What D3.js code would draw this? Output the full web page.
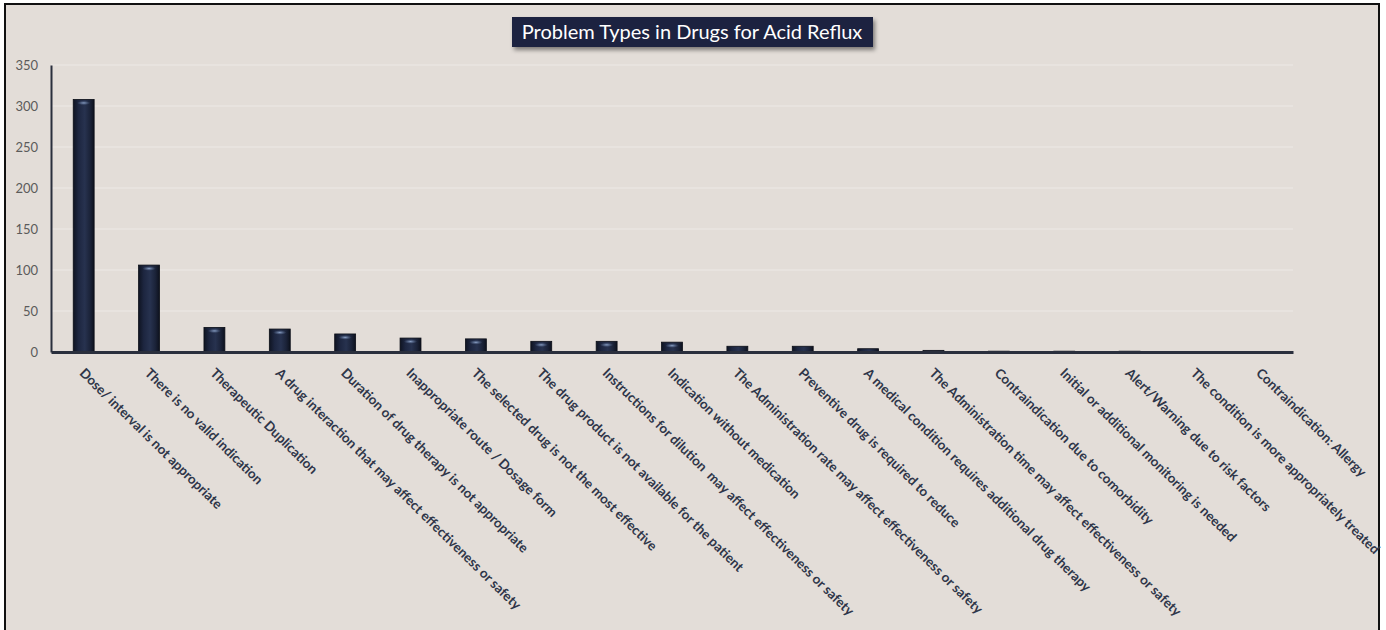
<!DOCTYPE html>
<html>
<head>
<meta charset="utf-8">
<script src="https://cdn.jsdelivr.net/npm/d3@7"></script>
<style>
  html, body { margin: 0; padding: 0; background: #ffffff; }
  svg { display: block; }
  .tick text { white-space: pre; }
</style>
</head>
<body>
<svg id="chart" width="1386" height="630"></svg>
<script>
// Problem types and their counts
const categories = [
  "Dose/ interval is not appropriate",
  "There is no valid indication",
  "Therapeutic Duplication",
  "A drug interaction that may affect effectiveness or safety",
  "Duration of drug therapy is not appropriate",
  "Inappropriate route / Dosage form",
  "The selected drug is not the most effective",
  "The drug product is not available for the patient",
  "Instructions for dilution  may affect effectiveness or safety",
  "Indication without medication",
  "The Administration rate may affect effectiveness or safety",
  "Preventive drug is required to reduce",
  "A medical condition requires additional drug therapy",
  "The Administration time may affect effectiveness or safety",
  "Contraindication due to comorbidity",
  "Initial or additional monitoring is needed",
  "Alert/Warning due to risk factors",
  "The condition is more appropriately treated",
  "Contraindication: Allergy"
];
const counts = [308, 106, 30, 28, 22, 17, 16, 13, 13, 12, 7, 7, 4, 2, 1, 1, 1, 0, 0];
const yTicks = [0, 50, 100, 150, 200, 250, 300, 350];
const chartTitle = "Problem Types in Drugs for Acid Reflux";

const data = categories.map((c, i) => ({ name: c, value: counts[i] }));

const svg = d3.select("#chart");
const font = "Lato, 'Open Sans', sans-serif";

// Panel background and frame
svg.append("rect")
  .attr("x", 5).attr("y", 4).attr("width", 1374).attr("height", 640)
  .attr("fill", "#e3ddd8").attr("stroke", "#111").attr("stroke-width", 2);

const defs = svg.append("defs");
const grad = defs.append("linearGradient").attr("id", "barFill")
  .attr("x1", "0%").attr("x2", "100%").attr("y1", "0%").attr("y2", "0%");
grad.append("stop").attr("offset", "0%").attr("stop-color", "#0f1422");
grad.append("stop").attr("offset", "25%").attr("stop-color", "#1d2640");
grad.append("stop").attr("offset", "55%").attr("stop-color", "#27324f");
grad.append("stop").attr("offset", "80%").attr("stop-color", "#1b2339");
grad.append("stop").attr("offset", "100%").attr("stop-color", "#0d111d");

const hl = defs.append("radialGradient").attr("id", "barTop")
  .attr("cx", "50%").attr("cy", "50%").attr("r", "50%");
hl.append("stop").attr("offset", "0%").attr("stop-color", "#8da3c8").attr("stop-opacity", 0.95);
hl.append("stop").attr("offset", "100%").attr("stop-color", "#5a6f95").attr("stop-opacity", 0);

const shadow = defs.append("filter").attr("id", "titleShadow")
  .attr("x", "-10%").attr("y", "-30%").attr("width", "120%").attr("height", "170%");
shadow.append("feDropShadow").attr("dx", 2).attr("dy", 3).attr("stdDeviation", 2)
  .attr("flood-color", "#000").attr("flood-opacity", 0.45);

const plotLeft = 51, plotRight = 1293, plotTop = 65, plotBottom = 352;

const x = d3.scaleBand()
  .domain(categories)
  .range([plotLeft, plotRight])
  .paddingInner(0.68)
  .paddingOuter(0.34);

const y = d3.scaleLinear()
  .domain([0, 350])
  .range([plotBottom, plotTop]);

// Gridlines
svg.append("g")
  .selectAll("line")
  .data(yTicks.filter(t => t > 0))
  .join("line")
  .attr("x1", plotLeft).attr("x2", plotRight)
  .attr("y1", d => y(d)).attr("y2", d => y(d))
  .attr("stroke", "#eeeae6").attr("stroke-width", 1.2);

// Y axis
const yAxis = svg.append("g")
  .attr("transform", `translate(${plotLeft},0)`)
  .call(d3.axisLeft(y).tickValues(yTicks).tickSize(0).tickPadding(13));
yAxis.select(".domain").attr("stroke", "#2a2f3d").attr("stroke-width", 2);
yAxis.selectAll("text")
  .attr("font-family", font).attr("font-size", 13).attr("fill", "#5b5b5b");

// Bars
const bars = svg.append("g");
bars.selectAll("rect.bar")
  .data(data)
  .join("rect")
  .attr("class", "bar")
  .attr("x", d => x(d.name))
  .attr("y", d => y(d.value))
  .attr("width", x.bandwidth())
  .attr("height", d => plotBottom - y(d.value))
  .attr("fill", "url(#barFill)")
  .attr("stroke", "#0b0e17").attr("stroke-width", 0.8);

bars.selectAll("ellipse")
  .data(data.filter(d => plotBottom - y(d.value) > 6))
  .join("ellipse")
  .attr("cx", d => x(d.name) + x.bandwidth() / 2)
  .attr("cy", d => y(d.value) + 3.5)
  .attr("rx", x.bandwidth() * 0.32)
  .attr("ry", 2.2)
  .attr("fill", "url(#barTop)");

// X axis
const xAxis = svg.append("g")
  .attr("transform", `translate(0,${plotBottom})`)
  .call(d3.axisBottom(x).tickSize(0).tickPadding(0));
xAxis.select(".domain").attr("stroke", "#2a2f3d").attr("stroke-width", 3);
xAxis.selectAll(".tick text")
  .attr("font-family", font).attr("font-size", 13.4).attr("font-weight", 700)
  .attr("fill", "#2f3649")
  .attr("text-anchor", "start")
  .attr("dy", 0)
  .attr("transform", "translate(-5,22) rotate(44.5)");

// Title badge
const tg = svg.append("g").attr("filter", "url(#titleShadow)");
tg.append("rect")
  .attr("x", 512).attr("y", 17).attr("width", 361).attr("height", 30)
  .attr("fill", "#1b2440");
svg.append("text")
  .attr("x", 692).attr("y", 39)
  .attr("text-anchor", "middle")
  .attr("font-family", font).attr("font-size", 20)
  .attr("fill", "#ffffff")
  .text(chartTitle);
</script>
</body>
</html>
